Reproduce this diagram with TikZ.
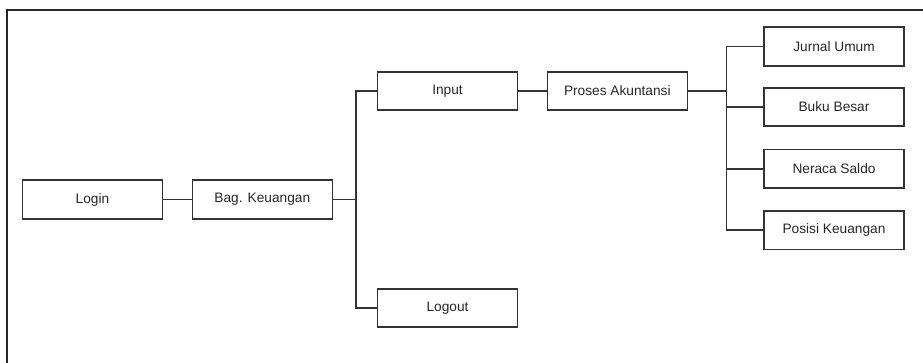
\documentclass[tikz,border=0pt]{standalone}
\usepackage{fontspec}
\setmainfont{Liberation Sans}
\begin{document}
\begin{tikzpicture}[x=1pt, y=-1pt,
        every node/.style={draw=black!80, rectangle, line width=1.6pt,
        minimum width=140pt, minimum height=38.5pt, inner sep=0pt,
        font=\fontsize{13.7}{15}\selectfont, text=black!85},
        garis/.style={draw=black!80, line width=1.6pt},
      ]
      \useasboundingbox (0,0) rectangle (923,363);
      \draw[black!85, line width=1.4pt] (7,10) rectangle (940,380);
      \node (login) at (92.5,199.5) {Login};
      \node (bag) at (262.3,199.5) {Bag. Keuangan};
      \node (input) at (447.5,91) {Input};
      \node (logout) at (447.5,308) {Logout};
      \node (proses) at (617.3,91) {Proses Akuntansi};
      \node (jurnal) at (834,46.5) {Jurnal Umum};
      \node (buku) at (834,107) {Buku Besar};
      \node (neraca) at (834,168.8) {Neraca Saldo};
      \node (posisi) at (834,230.3) {Posisi Keuangan};
      % penghubung
      \path[garis] (login) -- (bag);
      \path[garis] (bag.east) -- ++(22.7,0) |- (input.west);
      \path[garis] (bag.east) -- ++(22.7,0) |- (logout.west);
      \path[garis] (input) -- (proses);
      \foreach \n in {jurnal,buku,neraca,posisi}
        \path[garis] (proses.east) -- ++(38.5,0) |- (\n.west);
    \end{tikzpicture}
\end{document}
